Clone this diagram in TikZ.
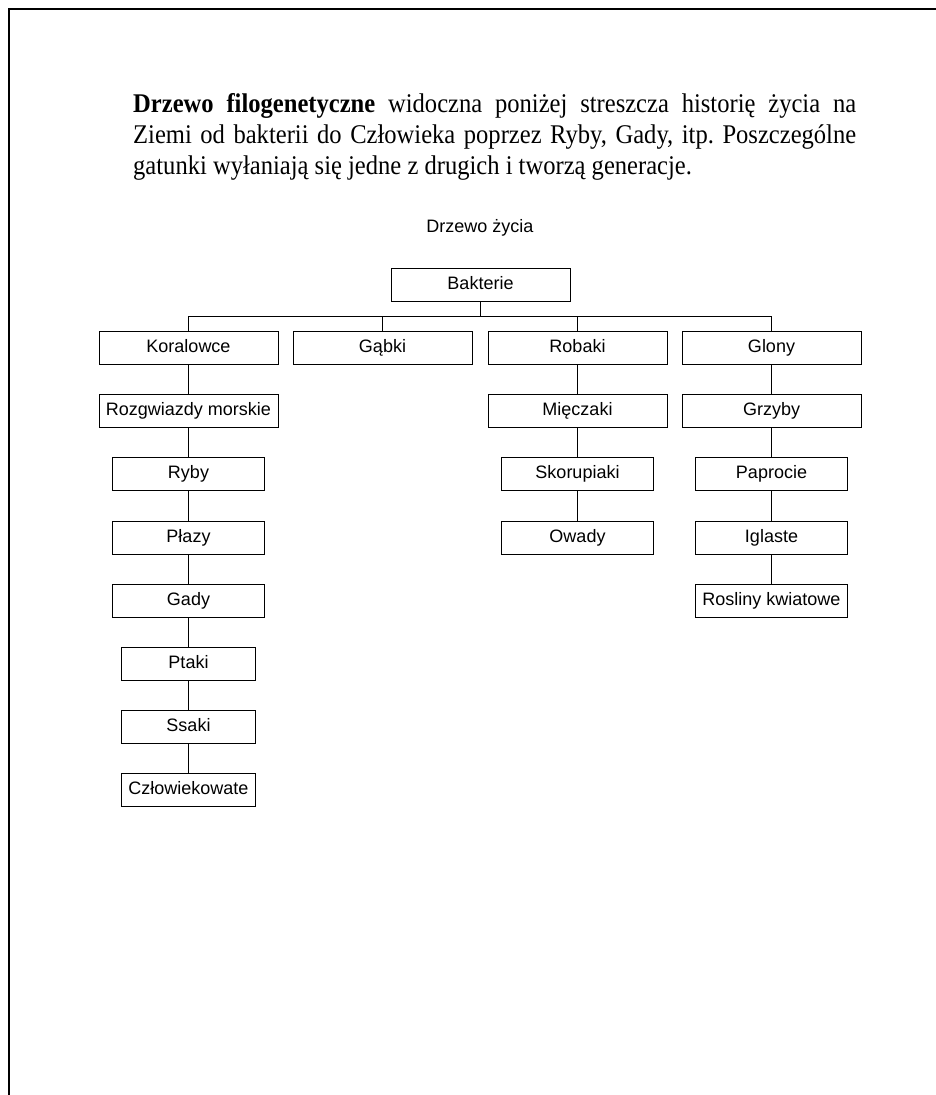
\documentclass[tikz,border=0pt]{standalone}
\usepackage{fontspec}
\newfontfamily\parafont{Liberation Serif}[FakeStretch=0.91]
\newfontfamily\boxfont{Liberation Sans}
\frenchspacing
\begin{document}
\begin{tikzpicture}[x=1pt,y=-1pt,
  frame/.style={line width=2.2pt},
  taxon/.style={draw,line width=0.9pt,rectangle,inner sep=0pt,minimum height=33pt,
    font=\boxfont\fontsize{18}{21}\selectfont,text height=13pt,text depth=4pt},
  wide/.style={taxon,minimum width=179pt},
  mid/.style={taxon,minimum width=152pt},
  narrow/.style={taxon,minimum width=134pt},
  link/.style={line width=0.9pt},
  paraline/.style={anchor=base west,inner sep=0pt,font=\parafont\fontsize{27}{31}\selectfont}]
\useasboundingbox (0,0) rectangle (936,1095);
% frame
\draw[frame] (9,1095) -- (9,9) -- (936,9);
% paragraph
\node[paraline] (p1) at (133,112) {\makebox[723pt][s]{\textbf{Drzewo filogenetyczne} widoczna poniżej streszcza historię życia na}};
\node[paraline] (p2) at (133,143) {\makebox[723pt][s]{Ziemi od bakterii do Człowieka poprzez Ryby, Gady, itp. Poszczególne}};
\node[paraline] (p3) at (133,174) {gatunki wyłaniają się jedne z drugich i tworzą generacje.};
% title
\node[font=\boxfont\fontsize{18}{21}\selectfont,inner sep=0pt] (title) at (480,228) {Drzewo życia};
% tree
\node[wide] (root) at (480.5,284.5) {Bakterie};
\node[wide] (kor) at (188.5,347.5) {Koralowce};
\node[wide] (gab) at (382.5,347.5) {Gąbki};
\node[wide] (rob) at (577.5,347.5) {Robaki};
\node[wide] (glo) at (771.5,347.5) {Glony};
\coordinate (bus) at (0,316);
% Koralowce column
\node[wide] (roz) at (188.5,410.5) {Rozgwiazdy morskie};
\node[mid] (ryb) at (188.5,473.5) {Ryby};
\node[mid] (pla) at (188.5,537.5) {Płazy};
\node[mid] (gad) at (188.5,600.5) {Gady};
\node[narrow] (pta) at (188.5,663.5) {Ptaki};
\node[narrow] (ssa) at (188.5,726.5) {Ssaki};
\node[narrow] (czl) at (188.5,789.5) {Człowiekowate};
% Robaki column
\node[wide] (mie) at (577.5,410.5) {Mięczaki};
\node[mid] (sko) at (577.5,473.5) {Skorupiaki};
\node[mid] (owa) at (577.5,537.5) {Owady};
% Glony column
\node[wide] (grz) at (771.5,410.5) {Grzyby};
\node[mid] (pap) at (771.5,473.5) {Paprocie};
\node[mid] (igl) at (771.5,537.5) {Iglaste};
\node[mid] (ros) at (771.5,600.5) {Rosliny kwiatowe};
% connectors
\draw[link] (root.south) -- (root.south |- bus);
\draw[link] (kor.north) |- (glo.north |- bus) -- (glo.north);
\draw[link] (gab.north) -- (gab.north |- bus);
\draw[link] (rob.north) -- (rob.north |- bus);
\draw[link] (kor.south) -- (roz.north);
\draw[link] (roz.south) -- (ryb.north);
\draw[link] (ryb.south) -- (pla.north);
\draw[link] (pla.south) -- (gad.north);
\draw[link] (gad.south) -- (pta.north);
\draw[link] (pta.south) -- (ssa.north);
\draw[link] (ssa.south) -- (czl.north);
\draw[link] (rob.south) -- (mie.north);
\draw[link] (mie.south) -- (sko.north);
\draw[link] (sko.south) -- (owa.north);
\draw[link] (glo.south) -- (grz.north);
\draw[link] (grz.south) -- (pap.north);
\draw[link] (pap.south) -- (igl.north);
\draw[link] (igl.south) -- (ros.north);
\end{tikzpicture}
\end{document}
